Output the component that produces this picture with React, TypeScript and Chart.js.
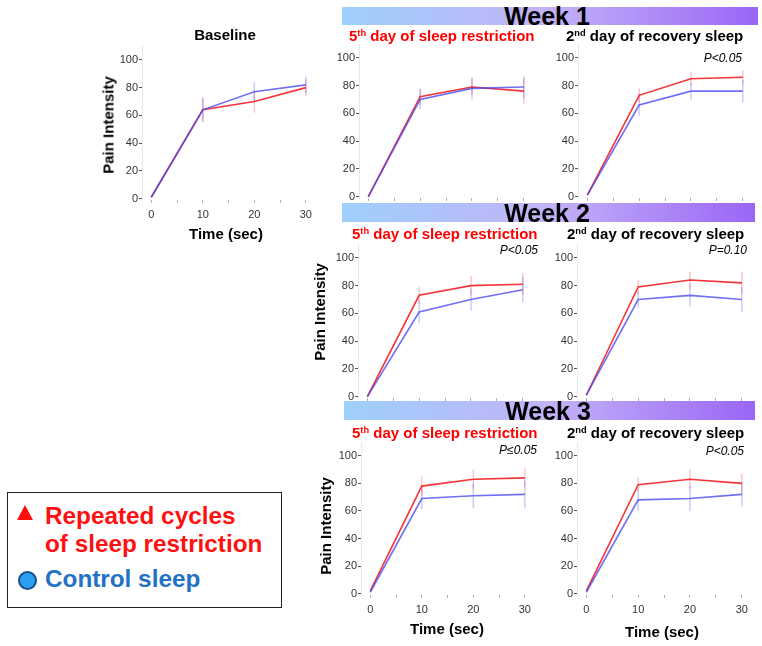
import React, { useEffect, useRef } from 'react';
import { Chart, registerables } from 'chart.js';

Chart.register(...registerables);

const FONT = '"Liberation Sans", Arial, Helvetica, sans-serif';

// ---- data ----
const TIME_SEC = [0, 10, 20, 30];
const X_TICK_LABELS = [0, 10, 20, 30];
const Y_STEP = 20;

const BASE_RESTRICT = [1, 64, 70, 80];
const BASE_CONTROL = [1, 64, 77, 82];
const BASE_RESTRICT_SD = [0, 8, 8, 6];
const BASE_CONTROL_SD = [0, 9, 7, 6];

const W1_SR_RESTRICT = [0, 72, 79, 76];
const W1_SR_CONTROL = [0, 70, 78, 79];
const W1_SR_RESTRICT_SD = [0, 6, 6, 9];
const W1_SR_CONTROL_SD = [0, 7, 8, 8];

const W1_RS_RESTRICT = [1, 73, 85, 86];
const W1_RS_CONTROL = [1, 66, 76, 76];
const W1_RS_RESTRICT_SD = [0, 5, 5, 5];
const W1_RS_CONTROL_SD = [0, 8, 6, 8];

const W2_SR_RESTRICT = [0, 73, 80, 81];
const W2_SR_CONTROL = [0, 61, 70, 77];
const W2_SR_RESTRICT_SD = [0, 6, 7, 8];
const W2_SR_CONTROL_SD = [0, 8, 8, 9];

const W2_RS_RESTRICT = [1, 79, 84, 82];
const W2_RS_CONTROL = [1, 70, 73, 70];
const W2_RS_RESTRICT_SD = [0, 5, 6, 8];
const W2_RS_CONTROL_SD = [0, 6, 8, 9];

const W3_SR_RESTRICT = [2, 78, 83, 84];
const W3_SR_CONTROL = [1, 69, 71, 72];
const W3_SR_RESTRICT_SD = [0, 7, 7, 7];
const W3_SR_CONTROL_SD = [0, 8, 9, 10];

const W3_RS_RESTRICT = [2, 79, 83, 80];
const W3_RS_CONTROL = [1, 68, 69, 72];
const W3_RS_RESTRICT_SD = [0, 5, 7, 7];
const W3_RS_CONTROL_SD = [0, 8, 9, 9];

const SERIES_RESTRICT = 'Repeated cycles of sleep restriction';
const SERIES_CONTROL = 'Control sleep';

// ---- styles ----
const RED = 'rgba(245, 30, 35, 0.9)';
const BLUE = 'rgba(70, 70, 245, 0.78)';
const RED_ERR = 'rgba(240, 60, 90, 0.3)';
const BLUE_ERR = 'rgba(90, 80, 230, 0.3)';

type PanelDef = {
  restrict: number[]; control: number[]; restrictSd: number[]; controlSd: number[];
  x0: number; x30: number; y0: number; y100: number; xLabels: boolean;
};

const PANELS: PanelDef[] = [
  { restrict: BASE_RESTRICT, control: BASE_CONTROL, restrictSd: BASE_RESTRICT_SD, controlSd: BASE_CONTROL_SD, x0: 151, x30: 306, y0: 199, y100: 60, xLabels: true },
  { restrict: W1_SR_RESTRICT, control: W1_SR_CONTROL, restrictSd: W1_SR_RESTRICT_SD, controlSd: W1_SR_CONTROL_SD, x0: 368, x30: 524, y0: 197, y100: 58, xLabels: false },
  { restrict: W1_RS_RESTRICT, control: W1_RS_CONTROL, restrictSd: W1_RS_RESTRICT_SD, controlSd: W1_RS_CONTROL_SD, x0: 587, x30: 743, y0: 197, y100: 58, xLabels: false },
  { restrict: W2_SR_RESTRICT, control: W2_SR_CONTROL, restrictSd: W2_SR_RESTRICT_SD, controlSd: W2_SR_CONTROL_SD, x0: 367, x30: 523, y0: 397, y100: 258, xLabels: false },
  { restrict: W2_RS_RESTRICT, control: W2_RS_CONTROL, restrictSd: W2_RS_RESTRICT_SD, controlSd: W2_RS_CONTROL_SD, x0: 586, x30: 742, y0: 397, y100: 258, xLabels: false },
  { restrict: W3_SR_RESTRICT, control: W3_SR_CONTROL, restrictSd: W3_SR_RESTRICT_SD, controlSd: W3_SR_CONTROL_SD, x0: 370, x30: 525, y0: 594, y100: 456, xLabels: true },
  { restrict: W3_RS_RESTRICT, control: W3_RS_CONTROL, restrictSd: W3_RS_RESTRICT_SD, controlSd: W3_RS_CONTROL_SD, x0: 586, x30: 742, y0: 594, y100: 456, xLabels: true },
];

const errorBars = {
  id: 'errorBars',
  beforeDatasetsDraw(chart: any) {
    const { ctx } = chart;
    const xs = chart.scales.x;
    const ys = chart.scales.y;
    chart.data.datasets.forEach((ds: any) => {
      const sd: number[] = ds.sd;
      if (!sd) return;
      ctx.save();
      ctx.strokeStyle = ds.errColor;
      ctx.lineWidth = 1.5;
      ds.data.forEach((pt: any, i: number) => {
        if (!sd[i]) return;
        const px = xs.getPixelForValue(pt.x);
        ctx.beginPath();
        ctx.moveTo(px, ys.getPixelForValue(pt.y - sd[i]));
        ctx.lineTo(px, ys.getPixelForValue(pt.y + sd[i]));
        ctx.stroke();
      });
      ctx.restore();
    });
  },
};

function Panel({ p }: { p: PanelDef }) {
  const ref = useRef<HTMLCanvasElement>(null);
  const xMin = -1.8, xMax = 31, yMin = -1, yMax = 110;
  const kx = (p.x30 - p.x0) / 30;
  const ky = (p.y0 - p.y100) / 100;
  const areaL = p.x0 + xMin * kx;
  const areaR = p.x0 + xMax * kx;
  const areaT = p.y0 - yMax * ky;
  const areaB = p.y0 - yMin * ky;
  const YW = 40, PT = 10, PR = 14;
  const XH = p.xLabels ? 22 : 8;
  const left = Math.round(areaL - YW);
  const top = Math.round(areaT - PT);
  const width = Math.round(areaR + PR - left);
  const height = Math.round(areaB + XH - top);

  useEffect(() => {
    if (!ref.current) return;
    const chart = new Chart(ref.current, {
      type: 'line',
      data: {
        datasets: [
          {
            label: SERIES_RESTRICT,
            data: TIME_SEC.map((t, i) => ({ x: t, y: p.restrict[i] })),
            borderColor: RED, borderWidth: 1.6, pointRadius: 0, tension: 0, order: 2,
            sd: p.restrictSd, errColor: RED_ERR,
          } as any,
          {
            label: SERIES_CONTROL,
            data: TIME_SEC.map((t, i) => ({ x: t, y: p.control[i] })),
            borderColor: BLUE, borderWidth: 1.6, pointRadius: 0, tension: 0, order: 1,
            sd: p.controlSd, errColor: BLUE_ERR,
          } as any,
        ],
      },
      options: {
        responsive: false,
        animation: false,
        devicePixelRatio: 1,
        layout: { padding: { top: PT, right: PR, left: 0, bottom: 0 } },
        plugins: { legend: { display: false }, tooltip: { enabled: false } },
        scales: {
          x: {
            type: 'linear', min: xMin, max: xMax,
            ticks: {
              stepSize: 5, includeBounds: false, autoSkip: false, maxRotation: 0, padding: 5,
              color: '#333', font: { family: FONT, size: 11 },
              callback: (v: any) => (p.xLabels && X_TICK_LABELS.includes(Number(v)) ? String(v) : ''),
            },
            grid: { drawOnChartArea: false, tickLength: 3, color: '#b0b0b0' },
            border: { display: false },
            afterFit: (s: any) => { s.height = XH; },
          },
          y: {
            type: 'linear', min: yMin, max: yMax,
            ticks: {
              stepSize: Y_STEP, includeBounds: false, padding: 1,
              color: '#333', font: { family: FONT, size: 11 },
            },
            grid: { drawOnChartArea: false, tickLength: 3, color: '#555' },
            border: { display: true, color: '#e6e6e6' },
            afterFit: (s: any) => { s.width = YW; },
          },
        },
      } as any,
      plugins: [errorBars],
    });
    return () => chart.destroy();
  }, []);

  return (
    <canvas
      ref={ref}
      width={width}
      height={height}
      style={{ position: 'absolute', left, top, width, height }}
    />
  );
}

type TxtProps = {
  x: number; y: number; size: number; anchor?: 'left' | 'center' | 'right';
  bold?: boolean; italic?: boolean; color?: string; children: React.ReactNode;
};

function Txt({ x, y, size, anchor = 'left', bold, italic, color = '#000', children }: TxtProps) {
  const tx = anchor === 'center' ? '-50%' : anchor === 'right' ? '-100%' : '0';
  return (
    <div
      style={{
        position: 'absolute', left: x, top: y - size * 0.8465, fontSize: size, lineHeight: `${size}px`,
        fontWeight: bold ? 700 : 400, fontStyle: italic ? 'italic' : 'normal', color,
        whiteSpace: 'nowrap', transform: `translateX(${tx})`, fontFamily: FONT,
      }}
    >
      {children}
    </div>
  );
}

function VTxt({ cx, cy, size, children }: { cx: number; cy: number; size: number; children: React.ReactNode }) {
  return (
    <div
      style={{
        position: 'absolute', left: cx, top: cy, fontSize: size, lineHeight: `${size}px`,
        fontWeight: 700, color: '#000', whiteSpace: 'nowrap', fontFamily: FONT,
        transform: 'translate(-50%, -50%) rotate(-90deg)',
      }}
    >
      {children}
    </div>
  );
}

const Sup = ({ children }: { children: React.ReactNode }) => (
  <span style={{ fontSize: '0.62em', position: 'relative', top: '-0.55em' }}>{children}</span>
);

function Bar({ x, y, w, h }: { x: number; y: number; w: number; h: number }) {
  return (
    <div
      style={{
        position: 'absolute', left: x, top: y, width: w, height: h,
        background: 'linear-gradient(to right, #9ed0fb 0%, #c3b2f8 50%, #9a66f6 100%)',
      }}
    />
  );
}

const SR_TITLE = (
  <>5<Sup>th</Sup> day of sleep restriction</>
);
const RS_TITLE = (
  <>2<Sup>nd</Sup> day of recovery sleep</>
);

export default function App() {
  return (
    <div style={{ position: 'absolute', left: 0, top: 0, width: 762, height: 646, background: '#fff', overflow: 'hidden', fontFamily: FONT }}>
      <Bar x={342} y={7} w={416} h={18} />
      <Bar x={342} y={203} w={413} h={19} />
      <Bar x={344} y={401} w={411} h={19} />

      {PANELS.map((p, i) => <Panel key={i} p={p} />)}

      <Txt x={547} y={25} size={25} anchor="center" bold>Week 1</Txt>
      <Txt x={547} y={222} size={25} anchor="center" bold>Week 2</Txt>
      <Txt x={548} y={420} size={25} anchor="center" bold>Week 3</Txt>

      <Txt x={225} y={40} size={15} anchor="center" bold>Baseline</Txt>

      <Txt x={349} y={41} size={15} bold color="#ff0000">{SR_TITLE}</Txt>
      <Txt x={566} y={41} size={15} bold>{RS_TITLE}</Txt>
      <Txt x={352} y={239} size={15} bold color="#ff0000">{SR_TITLE}</Txt>
      <Txt x={567} y={239} size={15} bold>{RS_TITLE}</Txt>
      <Txt x={352} y={437.5} size={15} bold color="#ff0000">{SR_TITLE}</Txt>
      <Txt x={567} y={437.5} size={15} bold>{RS_TITLE}</Txt>

      <Txt x={742} y={62} size={12} anchor="right" italic>P&lt;0.05</Txt>
      <Txt x={538} y={254} size={12} anchor="right" italic>P&lt;0.05</Txt>
      <Txt x={747} y={254} size={12} anchor="right" italic>P=0.10</Txt>
      <Txt x={537} y={454} size={12} anchor="right" italic>P≤0.05</Txt>
      <Txt x={744} y={455} size={12} anchor="right" italic>P&lt;0.05</Txt>

      <VTxt cx={108} cy={125} size={15}>Pain Intensity</VTxt>
      <VTxt cx={318.5} cy={312} size={15}>Pain Intensity</VTxt>
      <VTxt cx={325} cy={526} size={15}>Pain Intensity</VTxt>

      <Txt x={226} y={239} size={15} anchor="center" bold>Time (sec)</Txt>
      <Txt x={447} y={634} size={15} anchor="center" bold>Time (sec)</Txt>
      <Txt x={662} y={637} size={15} anchor="center" bold>Time (sec)</Txt>

      <div style={{ position: 'absolute', left: 7, top: 492, width: 273, height: 114, border: '1.5px solid #222' }} />
      <div style={{ position: 'absolute', left: 17, top: 505, width: 0, height: 0, borderLeft: '8.5px solid transparent', borderRight: '8.5px solid transparent', borderBottom: '15px solid #ff1010' }} />
      <div style={{ position: 'absolute', left: 18, top: 570.5, width: 15, height: 15, borderRadius: '50%', background: '#2aa0f0', border: '2px solid #1b4f8c' }} />
      <Txt x={45} y={525} size={24.3} bold color="#ff1010">Repeated cycles</Txt>
      <Txt x={45} y={553} size={24.3} bold color="#ff1010">of sleep restriction</Txt>
      <Txt x={45} y={588} size={24.3} bold color="#1f72c4">Control sleep</Txt>
    </div>
  );
}
